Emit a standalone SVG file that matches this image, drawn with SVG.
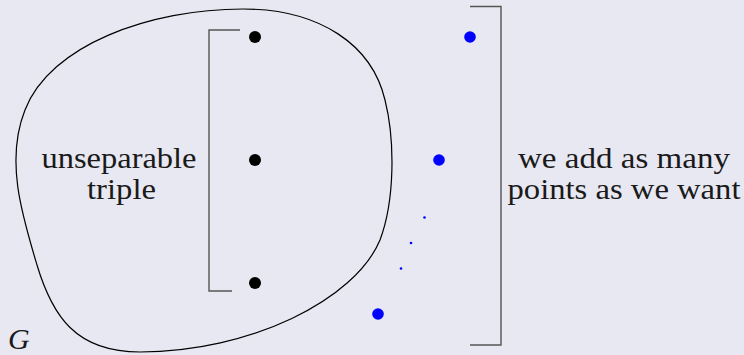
<svg xmlns="http://www.w3.org/2000/svg" width="744" height="355" viewBox="0 0 744 355">
<style>
.txt{font-family:'Liberation Serif','Times New Roman','DejaVu Serif','Noto Serif',Times,serif;font-size:30px;fill:#1a1a1a;text-anchor:middle}
.br{fill:none;stroke:#555;stroke-width:1.4}
.bd{fill:#000}
.bl{fill:#0000ff}
</style>
<rect width="744" height="355" fill="#e8e8f2"/>
<g id="G-region">
<path d="M 243,9 C 320,9 372,45 385,100 C 395,140 395,200 380,240 C 355,300 250,352 140,352 C 75,352 52,315 37,265 C 22,215 5,160 25,110 C 50,45 150,9 243,9 Z" fill="none" stroke="#000" stroke-width="1.2"/>
<text x="8" y="349" font-family="'Liberation Serif','Times New Roman','DejaVu Serif',serif" font-style="italic" font-size="30" fill="#1a1a1a">G</text>
</g>
<g id="triple">
<path class="br" d="M 240,30 H 209 V 291 H 232"/>
<circle class="bd" cx="255" cy="37" r="6"/>
<circle class="bd" cx="255" cy="160" r="6"/>
<circle class="bd" cx="255" cy="283" r="6"/>
<text class="txt" x="119" y="168" textLength="155" lengthAdjust="spacingAndGlyphs">unseparable</text>
<text class="txt" x="121.5" y="199" textLength="69" lengthAdjust="spacingAndGlyphs">triple</text>
</g>
<g id="added-points">
<path class="br" d="M 470,6.5 H 501 V 345 H 470"/>
<circle class="bl" cx="470" cy="37" r="5.8"/>
<circle class="bl" cx="439" cy="160" r="5.8"/>
<circle class="bl" cx="378" cy="314" r="5.8"/>
<circle class="bl" cx="424.5" cy="217.5" r="1.3"/>
<circle class="bl" cx="411" cy="243" r="1.3"/>
<circle class="bl" cx="401" cy="268.5" r="1.3"/>
<text class="txt" x="624" y="168" textLength="212" lengthAdjust="spacingAndGlyphs">we add as many</text>
<text class="txt" x="624" y="199" textLength="233" lengthAdjust="spacingAndGlyphs">points as we want</text>
</g>
<g id="connectors"></g>
</svg>
